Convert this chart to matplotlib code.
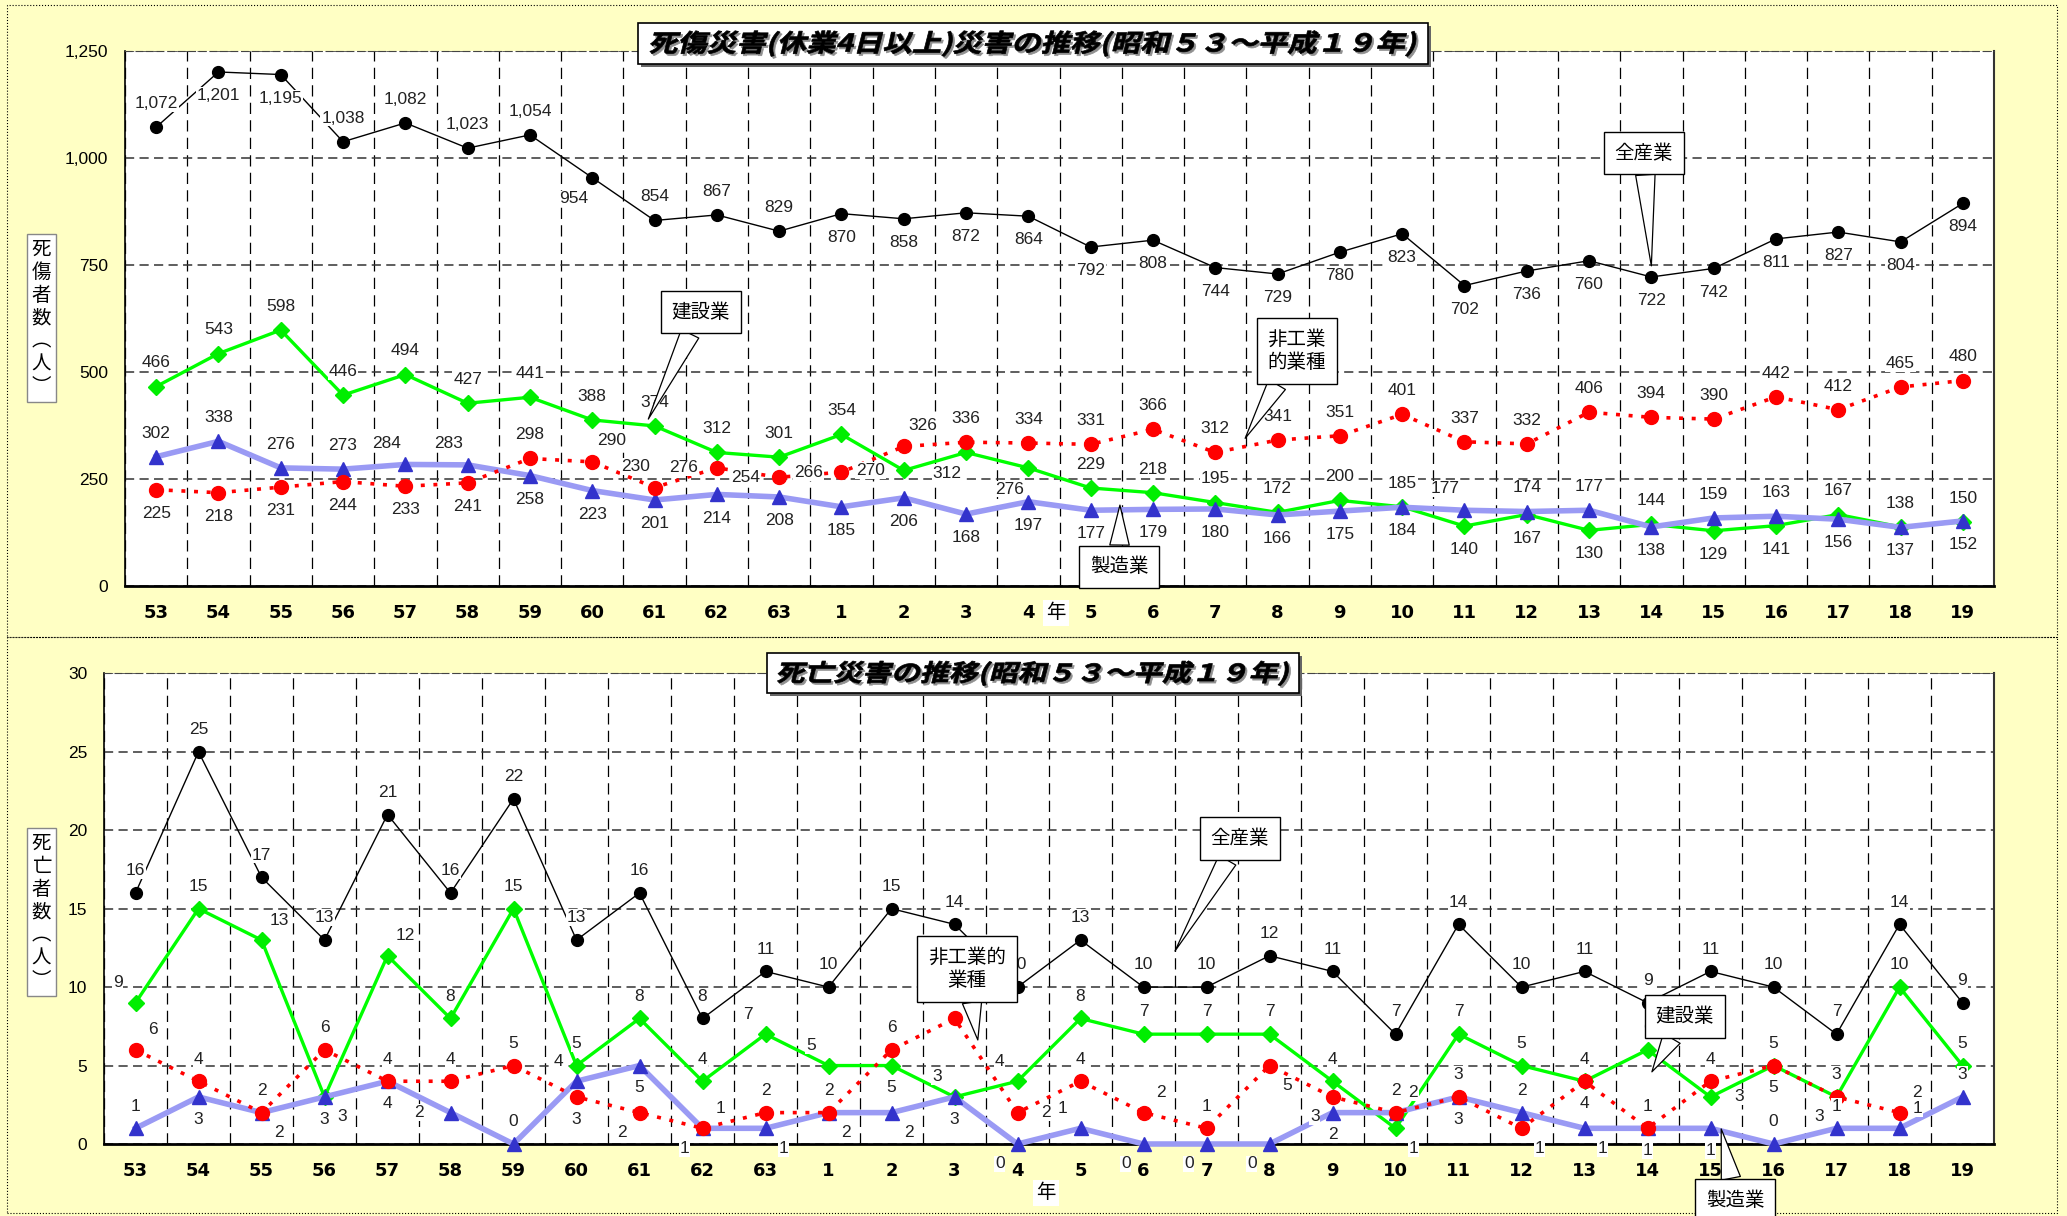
import numpy as np
import matplotlib
matplotlib.use("Agg")
import matplotlib.pyplot as plt
from matplotlib import font_manager as fm
from matplotlib.textpath import TextPath
from matplotlib.patches import PathPatch, Rectangle
from matplotlib.transforms import Affine2D, IdentityTransform


def has_font(name):
    try:
        fm.findfont(fm.FontProperties(family=name), fallback_to_default=False)
        return True
    except Exception:
        return False


CJK = "Noto Sans CJK JP"
NARROW = "Liberation Sans Narrow" if has_font("Liberation Sans Narrow") else "Liberation Sans"
plt.rcParams["font.family"] = [NARROW, CJK, "DejaVu Sans"]

# 年 (昭和53〜63, 平成1〜19)
years = ["53", "54", "55", "56", "57", "58", "59", "60", "61", "62", "63",
         "1", "2", "3", "4", "5", "6", "7", "8", "9", "10",
         "11", "12", "13", "14", "15", "16", "17", "18", "19"]

# 死傷災害 (休業4日以上)
injury_all = [1072, 1201, 1195, 1038, 1082, 1023, 1054, 954, 854, 867, 829,
              870, 858, 872, 864, 792, 808, 744, 729, 780, 823,
              702, 736, 760, 722, 742, 811, 827, 804, 894]
injury_construction = [466, 543, 598, 446, 494, 427, 441, 388, 374, 312, 301,
                       354, 270, 312, 276, 229, 218, 195, 172, 200, 185,
                       140, 167, 130, 144, 129, 141, 167, 138, 150]
injury_manufacturing = [302, 338, 276, 273, 284, 283, 258, 223, 201, 214, 208,
                        185, 206, 168, 197, 177, 179, 180, 166, 175, 184,
                        177, 174, 177, 138, 159, 163, 156, 137, 152]
injury_nonindustrial = [225, 218, 231, 244, 233, 241, 298, 290, 230, 276, 254,
                        266, 326, 336, 334, 331, 366, 312, 341, 351, 401,
                        337, 332, 406, 394, 390, 442, 412, 465, 480]

# 死亡災害
death_all = [16, 25, 17, 13, 21, 16, 22, 13, 16, 8, 11,
             10, 15, 14, 10, 13, 10, 10, 12, 11, 7,
             14, 10, 11, 9, 11, 10, 7, 14, 9]
death_construction = [9, 15, 13, 3, 12, 8, 15, 5, 8, 4, 7,
                      5, 5, 3, 4, 8, 7, 7, 7, 4, 1,
                      7, 5, 4, 6, 3, 5, 3, 10, 5]
death_manufacturing = [1, 3, 2, 3, 4, 2, 0, 4, 5, 1, 1,
                       2, 2, 3, 0, 1, 0, 0, 0, 2, 2,
                       3, 2, 1, 1, 1, 0, 1, 1, 3]
death_nonindustrial = [6, 4, 2, 6, 4, 4, 5, 3, 2, 1, 2,
                       2, 6, 8, 2, 4, 2, 1, 5, 3, 2,
                       3, 1, 4, 1, 4, 5, 3, 2, None]

# label placement per point: a above, b below, l left, r right,
# q above-left, p above-right, d below-left, e below-right
OFFSETS = {"a": (0, 1), "b": (0, -1), "l": (-1.4, 0), "r": (1.3, 0),
           "q": (-0.8, 0.9), "p": (0.8, 0.9), "d": (-0.8, -0.9), "e": (0.8, -0.9)}

place_injury_all = "abbaaaadaaabbbbbbbbbbbbbbbbbbb"
place_injury_con = "aaaaaaaaaaaaldd" + "aaaaaa" + "bbbabbaaa"
place_injury_man = "aaaaqq" + "b" * 15 + "qaabaabbb"
place_injury_non = "bbbbbb" + "apqlllp" + "a" * 17
place_death_all = "a" * 30
place_death_con = "qapepaaaaaqqbqq" + "aaaaae" + "aaaar" + "aaaa"
place_death_man = "abebblaqbdeeebd" + "qdddba" + "baebb" + "aapa"
place_death_non = "paaaaaabdpaaapr" + "apaedp" + "aeba" + "abdpa"

BG = "#FFFFC4"
W, H = 2067, 1216
fig = plt.figure(figsize=(W / 100, H / 100), dpi=100, facecolor=BG)


def draw_series(ax, vals, places, fmt, d, **style):
    x = np.arange(len(vals))
    y = np.array([np.nan if v is None else v for v in vals], dtype=float)
    ax.plot(x, y, clip_on=False, **style)
    for xi, yi, p in zip(x, y, places):
        if np.isnan(yi):
            continue
        ox, oy = OFFSETS[p]
        ax.annotate(fmt.format(yi), (xi, yi), xytext=(ox * d, oy * d),
                    textcoords="offset points", ha="center", va="center",
                    fontsize=12.5, family=NARROW, color="#222222", zorder=8,
                    bbox=dict(boxstyle="square,pad=0.05", fc="white", ec="none"),
                    annotation_clip=False)


def setup_axes(rect, ymax, ystep, tick_fmt):
    ax = fig.add_axes(rect)
    ax.set_facecolor("white")
    ax.set_xlim(-0.5, len(years) - 0.5)
    ax.set_ylim(0, ymax)
    ax.set_xticks(range(len(years)))
    ax.set_xticklabels(years, fontweight="bold", fontsize=13, family="DejaVu Sans")
    ax.set_xticks(np.arange(-0.5, len(years), 1), minor=True)
    yt = np.arange(0, ymax + 1, ystep)
    ax.set_yticks(yt)
    ax.set_yticklabels([tick_fmt.format(v) for v in yt], fontsize=12.5, family=NARROW)
    ax.tick_params(axis="x", which="both", length=0, pad=13)
    ax.tick_params(axis="y", length=0, pad=12)
    ax.grid(which="minor", axis="x", color="black", lw=0.9, ls=(0, (9, 5)))
    ax.grid(which="major", axis="y", color="#333333", lw=1.1, ls=(0, (6, 3.5)))
    ax.grid(which="major", axis="x", visible=False)
    ax.spines["left"].set_linewidth(1.2)
    ax.spines["bottom"].set_linewidth(2.0)
    ax.spines["right"].set_color("#333333")
    ax.spines["right"].set_linewidth(1.5)
    ax.spines["top"].set_linestyle((0, (6, 3.5)))
    ax.spines["top"].set_color("#444444")
    ax.set_axisbelow(True)
    return ax


def callout(ax, text, target, box_xy):
    ax.annotate(text, xy=target, xycoords="data", xytext=box_xy,
                textcoords="axes fraction", ha="center", va="center",
                fontsize=14, family=CJK, linespacing=1.15, zorder=12,
                bbox=dict(boxstyle="square,pad=0.55", fc="white", ec="black", lw=1.0),
                arrowprops=dict(arrowstyle="wedge,tail_width=1.0,shrink_factor=0.5",
                                fc="white", ec="black", lw=0.9, shrinkA=0, shrinkB=0),
                annotation_clip=False)


def title_box(text, cx, cy, w, h, text_w, text_h):
    x0, y0 = cx - w / 2, H - cy - h / 2
    fig.add_artist(Rectangle((x0 + 3, y0 - 3), w, h, transform=IdentityTransform(),
                             fc="#666666", ec="none", zorder=20))
    fig.add_artist(Rectangle((x0, y0), w, h, transform=IdentityTransform(),
                             fc="white", ec="black", lw=1.2, zorder=21))
    tp = TextPath((0, 0), text, size=20, prop=fm.FontProperties(family=CJK, weight="bold"))
    ext = tp.get_extents()
    base = (Affine2D().translate(-ext.x0 - ext.width / 2, -ext.y0 - ext.height / 2)
            .skew_deg(12, 0).scale(text_w / ext.width, text_h / ext.height))
    for dx, dy, col, z in [(2, -2, "#909090", 22), (0, 0, "black", 23)]:
        tr = base + Affine2D().translate(cx + dx, H - cy + dy)
        fig.add_artist(PathPatch(tp, transform=tr, fc=col, ec=col, lw=0.5, zorder=z))


def panel(y_top, y_bot):
    fig.add_artist(Rectangle((7 / W, 1 - y_bot / H), 2050 / W, (y_bot - y_top) / H,
                             transform=fig.transFigure, fill=False, ec="black",
                             lw=0.8, ls=":", zorder=-1))


def ylabel_box(text, cy):
    fig.text(41.5 / W, 1 - cy / H, "\n".join(text), ha="center", va="center",
             fontsize=14, family=CJK, linespacing=1.12,
             bbox=dict(boxstyle="square,pad=0.25", fc="white", ec="#888888", lw=1.0))


def year_label(cx, cy):
    fig.text(cx / W, 1 - cy / H, "年", ha="center", va="center", fontsize=14,
             family=CJK, bbox=dict(boxstyle="square,pad=0.15", fc="white", ec="none"))


panel(5, 637)
panel(637, 1213)

style_all = dict(color="black", lw=1.0, marker="o", ms=8.5, mfc="black", mec="black", zorder=6)
style_con = dict(color="#00FF00", lw=2.4, marker="D", ms=8, mfc="#00EE00", mec="#00EE00", zorder=3)
style_man = dict(color="#9A9AF4", lw=4.0, marker="^", ms=9.5, mfc="#3333CC", mec="#3333CC", zorder=4)
style_non = dict(color="#FF0000", lw=2.6, ls=(0, (1.1, 2.4)), marker="o", ms=10,
                 mfc="#FF0000", mec="#FF0000", zorder=5)

# --- 死傷災害 ---
ax1 = setup_axes([125 / W, 1 - 586 / H, 1869 / W, 535 / H], 1250, 250, "{:,.0f}")
draw_series(ax1, injury_construction, place_injury_con, "{:,.0f}", 17, **style_con)
draw_series(ax1, injury_manufacturing, place_injury_man, "{:,.0f}", 17, **style_man)
draw_series(ax1, injury_nonindustrial, place_injury_non, "{:,.0f}", 17, **style_non)
draw_series(ax1, injury_all, place_injury_all, "{:,.0f}", 17, **style_all)
callout(ax1, "全産業", (24.0, 748), (0.8127, 0.809))
callout(ax1, "建設業", (7.9, 390), (0.308, 0.512))
callout(ax1, "非工業\n的業種", (17.48, 345), (0.627, 0.439))
callout(ax1, "製造業", (15.47, 189), (0.532, 0.036))

# --- 死亡災害 ---
ax2 = setup_axes([104 / W, 1 - 1144 / H, 1890 / W, 470.7 / H], 30, 5, "{:.0f}")
draw_series(ax2, death_construction, place_death_con, "{:.0f}", 16, **style_con)
draw_series(ax2, death_manufacturing, place_death_man, "{:.0f}", 16, **style_man)
draw_series(ax2, death_nonindustrial, place_death_non, "{:.0f}", 16, **style_non)
draw_series(ax2, death_all, place_death_all, "{:.0f}", 16, **style_all)
callout(ax2, "全産業", (16.5, 12.3), (0.601, 0.649))
callout(ax2, "非工業的\n業種", (13.37, 6.63), (0.4566, 0.372))
callout(ax2, "建設業", (24.07, 4.6), (0.8363, 0.2705))
callout(ax2, "製造業", (25.17, 0.96), (0.863, -0.119))

title_box("死傷災害(休業4日以上)災害の推移(昭和５３～平成１９年)", 1033, 43.5, 790, 41, 765, 26)
title_box("死亡災害の推移(昭和５３～平成１９年)", 1033, 673.3, 532, 40, 510, 25)

ylabel_box("死傷者数︵人︶", 318)
ylabel_box("死亡者数︵人︶", 912)
year_label(1056, 613)
year_label(1046, 1193)

fig.savefig("out.png", dpi=100, facecolor=BG)
